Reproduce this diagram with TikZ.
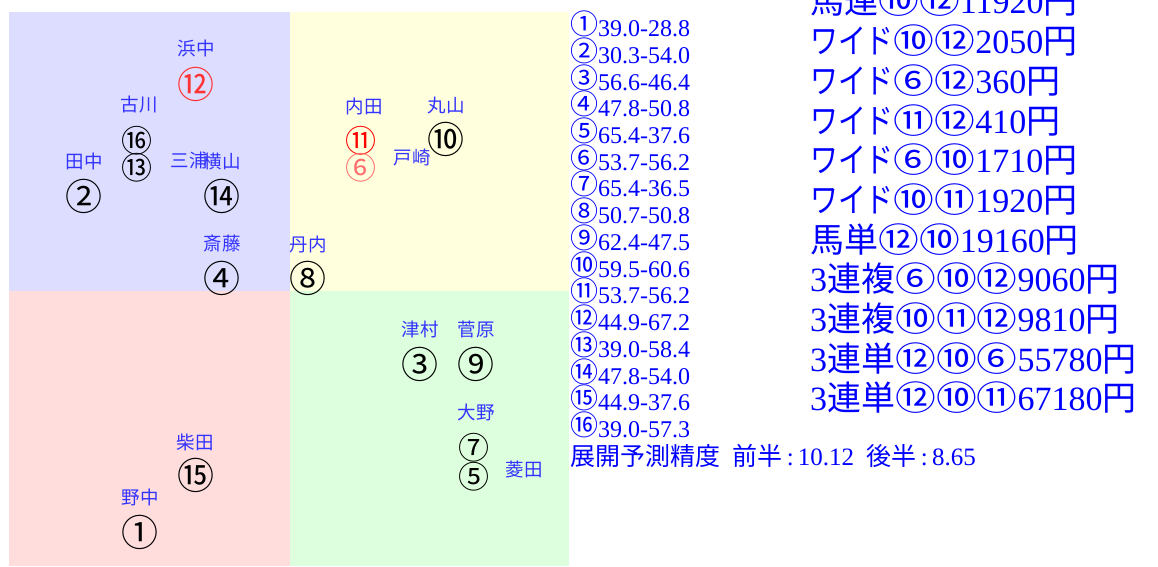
\documentclass[tikz,border=0pt]{standalone}
\usepackage{graphicx}
\usepackage{fontspec}
\setmainfont{Liberation Serif}
\newfontfamily\jp{Noto Sans CJK JP}
\definecolor{qblue}{RGB}{221,221,255}
\definecolor{qyellow}{RGB}{255,255,221}
\definecolor{qpink}{RGB}{255,221,221}
\definecolor{qgreen}{RGB}{221,255,221}
\definecolor{lbl}{RGB}{51,51,255}
\definecolor{redA}{RGB}{255,51,51}
\definecolor{redB}{RGB}{255,110,110}
\newcommand{\pcirc}[1]{\scalebox{1.2}[1]{\jp #1}}
\newcommand{\kana}[1]{\scalebox{0.82}[1]{\jp #1}}
\newcommand{\lcirc}[1]{\raisebox{2pt}{\jp\fontsize{28}{28}\selectfont #1}}
\begin{document}
\begin{tikzpicture}[x=1pt,y=-1pt,
  jname/.style={text=lbl,inner sep=0pt,font=\jp\fontsize{18.5}{20}\selectfont},
  horse/.style={inner sep=0pt,font=\jp\fontsize{37}{40}\selectfont},
  horsesm/.style={inner sep=0pt,font=\jp\fontsize{31}{34}\selectfont},
  listline/.style={text=blue,anchor=base west,inner sep=0pt,font=\fontsize{24}{27}\selectfont},
  accline/.style={text=blue,anchor=west,inner sep=0pt,font=\fontsize{25}{27}\selectfont},
  payline/.style={text=blue,anchor=west,inner sep=0pt,font=\fontsize{34}{36}\selectfont}]
\useasboundingbox (0,0) rectangle (1158,566);
\clip (0,0) rectangle (1158,566);
% quadrants
\fill[qblue] (9,12) rectangle (290,291);
\fill[qyellow] (290,12) rectangle (569,291);
\fill[qpink] (9,291) rectangle (290,566);
\fill[qgreen] (290,291) rectangle (569,566);
% names and horses
\node[jname] (n12) at (196,48) {浜中};
\node[horse,text=redA] (h12) at (196,84) {⑫};
\node[jname] (n16) at (139,105) {古川};
\node[horsesm] (h16) at (137,141) {⑯};
\node[horsesm] (h13) at (137,168) {⑬};
\node[jname] (n2) at (84,161) {田中};
\node[horse] (h2) at (84,196) {②};
\node[jname] (n13) at (189,160) {三浦};
\node[jname] (n14) at (222,161) {横山};
\node[horse] (h14) at (222,196) {⑭};
\node[jname] (n4) at (222,244) {斎藤};
\node[horse] (h4) at (222,278) {④};
\node[jname] (n8) at (308,244) {丹内};
\node[horse] (h8) at (308,278) {⑧};
\node[jname] (n11) at (364,106) {内田};
\node[horsesm,text=red] (h11) at (361,141) {⑪};
\node[horsesm,text=redB] (h6) at (361,168) {⑥};
\node[jname] (n6) at (412,158) {戸崎};
\node[jname] (n10) at (446,106) {丸山};
\node[horse] (h10) at (446,139) {⑩};
\node[jname] (n3) at (420,329) {津村};
\node[horse] (h3) at (420,364) {③};
\node[jname] (n9) at (476,329) {菅原};
\node[horse] (h9) at (476,364) {⑨};
\node[jname] (n7) at (476,412) {大野};
\node[horsesm] (h7) at (474,448) {⑦};
\node[horsesm] (h5) at (474,477) {⑤};
\node[jname] (n5) at (524,469) {菱田};
\node[jname] (n15) at (195,442) {柴田};
\node[horse] (h15) at (196,475) {⑮};
\node[jname] (n1) at (140,497) {野中};
\node[horse] (h1) at (140,532) {①};
% list (baselines)
\node[listline] (l1) at (570,36.5) {\lcirc{①}39.0-28.8};
\node[listline] (l2) at (570,63.2) {\lcirc{②}30.3-54.0};
\node[listline] (l3) at (570,90.0) {\lcirc{③}56.6-46.4};
\node[listline] (l4) at (570,116.7) {\lcirc{④}47.8-50.8};
\node[listline] (l5) at (570,143.4) {\lcirc{⑤}65.4-37.6};
\node[listline] (l6) at (570,170.2) {\lcirc{⑥}53.7-56.2};
\node[listline] (l7) at (570,196.9) {\lcirc{⑦}65.4-36.5};
\node[listline] (l8) at (570,223.6) {\lcirc{⑧}50.7-50.8};
\node[listline] (l9) at (570,250.3) {\lcirc{⑨}62.4-47.5};
\node[listline] (l10) at (570,277.1) {\lcirc{⑩}59.5-60.6};
\node[listline] (l11) at (570,303.8) {\lcirc{⑪}53.7-56.2};
\node[listline] (l12) at (570,330.5) {\lcirc{⑫}44.9-67.2};
\node[listline] (l13) at (570,357.3) {\lcirc{⑬}39.0-58.4};
\node[listline] (l14) at (570,384.0) {\lcirc{⑭}47.8-54.0};
\node[listline] (l15) at (570,410.7) {\lcirc{⑮}44.9-37.6};
\node[listline] (l16) at (570,437.5) {\lcirc{⑯}39.0-57.3};
\node[accline] (acc) at (570,456) {{\jp 展開予測精度}\hspace{0.5em}{\jp 前半}\,:\,10.12\hspace{0.5em}{\jp 後半}\,:\,8.65};
% payouts
\node[payline] (p1) at (810,1) {{\jp 馬連}\pcirc{⑩}\pcirc{⑫}11920{\jp 円}};
\node[payline] (p2) at (810,40.7) {\kana{ワイド}\pcirc{⑩}\pcirc{⑫}2050{\jp 円}};
\node[payline] (p3) at (810,80.4) {\kana{ワイド}\pcirc{⑥}\pcirc{⑫}360{\jp 円}};
\node[payline] (p4) at (810,120.1) {\kana{ワイド}\pcirc{⑪}\pcirc{⑫}410{\jp 円}};
\node[payline] (p5) at (810,159.8) {\kana{ワイド}\pcirc{⑥}\pcirc{⑩}1710{\jp 円}};
\node[payline] (p6) at (810,199.5) {\kana{ワイド}\pcirc{⑩}\pcirc{⑪}1920{\jp 円}};
\node[payline] (p7) at (810,239.2) {{\jp 馬単}\pcirc{⑫}\pcirc{⑩}19160{\jp 円}};
\node[payline] (p8) at (810,278.9) {3{\jp 連複}\pcirc{⑥}\pcirc{⑩}\pcirc{⑫}9060{\jp 円}};
\node[payline] (p9) at (810,318.6) {3{\jp 連複}\pcirc{⑩}\pcirc{⑪}\pcirc{⑫}9810{\jp 円}};
\node[payline] (p10) at (810,358.3) {3{\jp 連単}\pcirc{⑫}\pcirc{⑩}\pcirc{⑥}55780{\jp 円}};
\node[payline] (p11) at (810,398) {3{\jp 連単}\pcirc{⑫}\pcirc{⑩}\pcirc{⑪}67180{\jp 円}};
\end{tikzpicture}
\end{document}
